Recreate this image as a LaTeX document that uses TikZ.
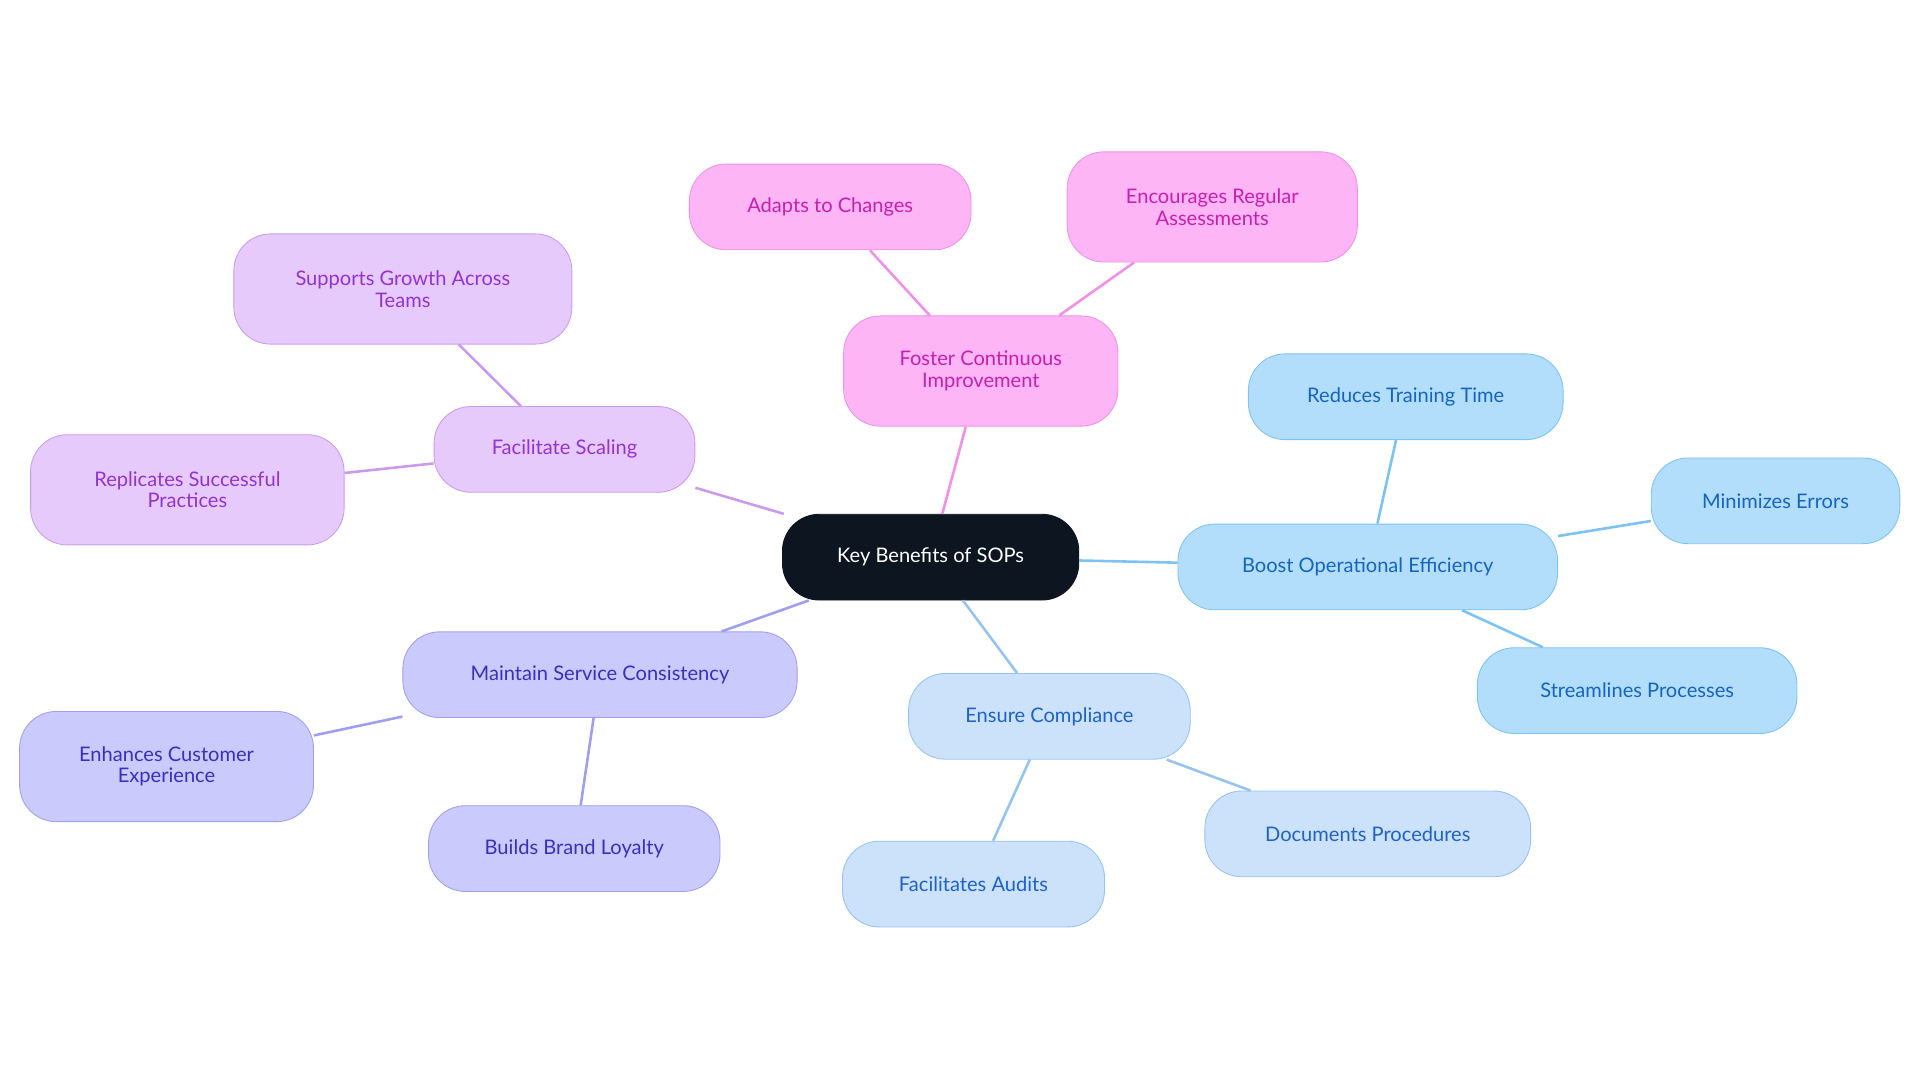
\documentclass[tikz,border=0pt]{standalone}
\usepackage{fontspec}
\setmainfont{Lato}
\usetikzlibrary{positioning}
\definecolor{rootfill}{HTML}{0D1520}
\definecolor{effFill}{HTML}{B3DEFB}\definecolor{effLine}{HTML}{7CC3F3}\definecolor{effText}{HTML}{1565C0}
\definecolor{comFill}{HTML}{CCE1FA}\definecolor{comLine}{HTML}{96C3F0}\definecolor{comText}{HTML}{1E63C8}
\definecolor{conFill}{HTML}{CACAFC}\definecolor{conLine}{HTML}{9F9FEF}\definecolor{conText}{HTML}{3A2FC0}
\definecolor{scaFill}{HTML}{E7CAFC}\definecolor{scaLine}{HTML}{CB9AF0}\definecolor{scaText}{HTML}{9333D0}
\definecolor{fosFill}{HTML}{FDB5F5}\definecolor{fosLine}{HTML}{F090E8}\definecolor{fosText}{HTML}{C81FB0}
\begin{document}
\begin{tikzpicture}[x=0.03cm,y=-0.03cm,
    box/.style={rectangle, draw, rounded corners=0.9cm, minimum height=2.1cm, align=center, font=\fontsize{14}{15}\selectfont, line width=0.6pt},
    eff/.style={box, fill=effFill, draw=effLine, text=effText},
    com/.style={box, fill=comFill, draw=comLine, text=comText},
    con/.style={box, fill=conFill, draw=conLine, text=conText},
    sca/.style={box, fill=scaFill, draw=scaLine, text=scaText},
    fos/.style={box, fill=fosFill, draw=fosLine, text=fosText},
    link/.style={line width=1.8pt}
]
\useasboundingbox (0,0) rectangle (1568,884);

% Root
\node[box, fill=rootfill, draw=rootfill, text=white, minimum width=7.26cm] (root) at (760,455) {Key Benefits of SOPs};

% Efficiency
\node[eff, minimum width=9.3cm] (boost) at (1117,463) {Boost Operational Efficiency};
\node[eff, minimum width=7.71cm] (train) at (1148,324) {Reduces Training Time};
\node[eff, minimum width=6.09cm] (errors) at (1450,409) {Minimizes Errors};
\node[eff, minimum width=7.83cm] (stream) at (1337,564) {Streamlines Processes};

% Compliance
\node[com, minimum width=6.9cm] (comply) at (857,585) {Ensure Compliance};
\node[com, minimum width=7.98cm] (docs) at (1117,681) {Documents Procedures};
\node[com, minimum width=6.42cm] (audits) at (795,722) {Facilitates Audits};

% Consistency
\node[con, minimum width=9.66cm] (consist) at (490,551) {Maintain Service Consistency};
\node[con, minimum width=7.2cm, minimum height=2.7cm] (custom) at (136,626) {Enhances Customer\\Experience};
\node[con, minimum width=7.14cm] (loyal) at (469,693) {Builds Brand Loyalty};

% Scaling
\node[sca, minimum width=6.39cm] (scale) at (461,367) {Facilitate Scaling};
\node[sca, minimum width=8.28cm, minimum height=2.7cm] (growth) at (329,236) {Supports Growth Across\\Teams};
\node[sca, minimum width=7.68cm, minimum height=2.7cm] (replic) at (153,400) {Replicates Successful\\Practices};

% Improvement
\node[fos, minimum width=6.72cm, minimum height=2.7cm] (foster) at (801,303) {Foster Continuous\\Improvement};
\node[fos, minimum width=6.9cm] (adapt) at (678,169) {Adapts to Changes};
\node[fos, minimum width=7.11cm, minimum height=2.7cm] (assess) at (990,169) {Encourages Regular\\Assessments};

% Links
\draw[link, effLine] (root) -- (boost);
\draw[link, effLine] (boost) -- (train);
\draw[link, effLine] (boost) -- (errors);
\draw[link, effLine] (boost) -- (stream);
\draw[link, comLine] (root) -- (comply);
\draw[link, comLine] (comply) -- (docs);
\draw[link, comLine] (comply) -- (audits);
\draw[link, conLine] (root) -- (consist);
\draw[link, conLine] (consist) -- (custom);
\draw[link, conLine] (consist) -- (loyal);
\draw[link, scaLine] (root) -- (scale);
\draw[link, scaLine] (scale) -- (growth);
\draw[link, scaLine] (scale) -- (replic);
\draw[link, fosLine] (root) -- (foster);
\draw[link, fosLine] (foster) -- (adapt);
\draw[link, fosLine] (foster) -- (assess);
\end{tikzpicture}
\end{document}
